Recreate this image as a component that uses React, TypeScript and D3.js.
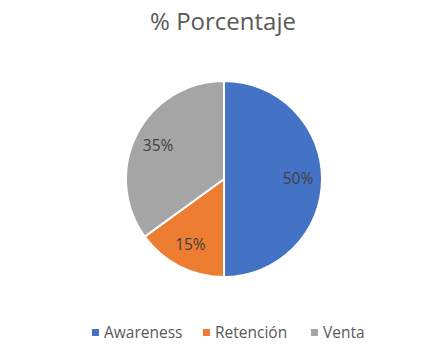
import React, { useEffect, useRef } from 'react';
import * as d3 from 'd3';

// Data
const categories = ['Awareness', 'Retención', 'Venta'];
const values = [50, 15, 35];
const colors = ['#4472C4', '#ED7D31', '#A5A5A5'];

const App = () => {
  const ref = useRef<HTMLDivElement>(null);

  useEffect(() => {
    const width = 441;
    const height = 354;
    const cx = 224;
    const cy = 179;
    const radius = 98;
    const font = '"Open Sans", sans-serif';

    d3.select(ref.current).select('svg').remove();

    const svg = d3
      .select(ref.current)
      .append('svg')
      .attr('width', width)
      .attr('height', height)
      .style('display', 'block')
      .style('background', '#fff');

    // Title
    svg
      .append('text')
      .attr('x', 223)
      .attr('y', 30)
      .attr('text-anchor', 'middle')
      .attr('font-family', font)
      .attr('font-size', 24)
      .attr('fill', '#595959')
      .text('% Porcentaje');

    const pie = d3.pie<number>().value(d => d).sort(null);
    const arc = d3.arc<d3.PieArcDatum<number>>().innerRadius(0).outerRadius(radius);
    const labelArc = d3.arc<d3.PieArcDatum<number>>().innerRadius(74).outerRadius(74);

    const g = svg.append('g').attr('transform', `translate(${cx},${cy})`);

    const arcs = g.selectAll('g.arc').data(pie(values)).enter().append('g').attr('class', 'arc');

    arcs
      .append('path')
      .attr('d', arc)
      .attr('fill', (d, i) => colors[i])
      .attr('stroke', '#fff')
      .attr('stroke-width', 2);

    arcs
      .append('text')
      .attr('transform', d => `translate(${labelArc.centroid(d)})`)
      .attr('text-anchor', 'middle')
      .attr('dy', '0.35em')
      .attr('font-family', font)
      .attr('font-size', 15.5)
      .attr('fill', '#404040')
      .text(d => `${d.data}%`);

    // Legend
    const legendX = [92, 203, 311];
    const legend = svg
      .selectAll('g.legend')
      .data(categories)
      .enter()
      .append('g')
      .attr('class', 'legend')
      .attr('transform', (d, i) => `translate(${legendX[i]},333)`);

    legend
      .append('rect')
      .attr('x', 0)
      .attr('y', -4)
      .attr('width', 7)
      .attr('height', 7)
      .attr('fill', (d, i) => colors[i]);

    legend
      .append('text')
      .attr('x', 12)
      .attr('dy', '0.35em')
      .attr('font-family', font)
      .attr('font-size', 15.5)
      .attr('fill', '#595959')
      .text(d => d);
  }, []);

  return <div ref={ref} style={{ margin: -8 }}></div>;
};

export default App;
